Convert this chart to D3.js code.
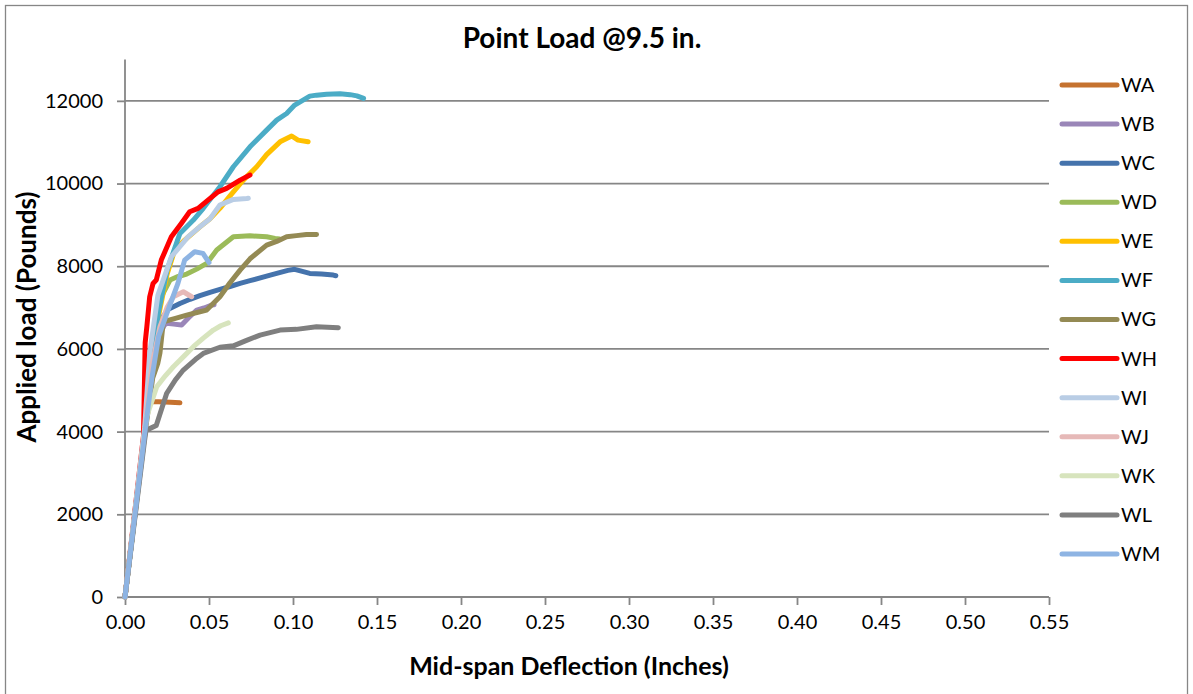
<!DOCTYPE html>
<html>
<head>
<meta charset="utf-8">
<script src="https://cdn.jsdelivr.net/npm/d3@7"></script>
<style>
  html, body { margin: 0; padding: 0; background: #fff; }
  svg { display: block; font-family: Lato, "Open Sans", sans-serif; }
</style>
</head>
<body>
<svg id="chart" width="1193" height="694"></svg>
<script>
// ---- data ----
const seriesNames = ["WA","WB","WC","WD","WE","WF","WG","WH","WI","WJ","WK","WL","WM"];
const seriesColors = ["#C5722F","#9A86B8","#4573AC","#9BBB59","#FFC000","#4BACC6","#948A54","#FF0000","#B9CDE5","#E6B9B8","#D7E4BD","#7F7F7F","#8EB4E3"];

const waX = [0, 0.0117, 0.0139, 0.020, 0.027, 0.0327];
const waY = [0, 4000, 4722, 4725, 4712, 4698];

const wbX = [0, 0.0117, 0.016, 0.020, 0.0235, 0.0248, 0.0290, 0.0337, 0.0380, 0.0427, 0.047, 0.0516, 0.053];
const wbY = [0, 4000, 5400, 6300, 6580, 6618, 6600, 6577, 6760, 6940, 6990, 7060, 7070];

const wcX = [0, 0.0117, 0.016, 0.019, 0.0226, 0.0258, 0.0327, 0.0387, 0.0446, 0.0506, 0.0565, 0.0625, 0.0685, 0.0744, 0.0843, 0.0903, 0.097, 0.101, 0.105, 0.110, 0.117, 0.124, 0.1255];
const wcY = [0, 4000, 5400, 6300, 6780, 6960, 7100, 7200, 7290, 7370, 7440, 7510, 7585, 7650, 7760, 7827, 7900, 7925, 7880, 7827, 7810, 7786, 7770];

const wdX = [0, 0.0117, 0.015, 0.018, 0.0216, 0.0268, 0.0308, 0.0367, 0.0427, 0.0486, 0.0546, 0.0645, 0.0744, 0.0843, 0.0893, 0.092];
const wdY = [0, 4000, 5300, 6500, 7262, 7665, 7740, 7810, 7930, 8068, 8391, 8712, 8737, 8712, 8673, 8660];

const weX = [0, 0.0117, 0.016, 0.020, 0.025, 0.0296, 0.0355, 0.0446, 0.0506, 0.0565, 0.0625, 0.0704, 0.0784, 0.0843, 0.0923, 0.0992, 0.103, 0.109];
const weY = [0, 4000, 5600, 6800, 7800, 8390, 8632, 8954, 9150, 9400, 9700, 10083, 10406, 10700, 11009, 11150, 11050, 11009];

const wfX = [0, 0.0117, 0.016, 0.020, 0.025, 0.0327, 0.0407, 0.0466, 0.0565, 0.0645, 0.0744, 0.0843, 0.0903, 0.0962, 0.101, 0.106, 0.110, 0.114, 0.120, 0.128, 0.134, 0.138, 0.142];
const wfY = [0, 4000, 5600, 6900, 7900, 8794, 9116, 9400, 9922, 10406, 10889, 11292, 11534, 11695, 11897, 12017, 12114, 12138, 12160, 12170, 12150, 12120, 12058];

const wgX = [0, 0.0117, 0.0165, 0.0195, 0.0208, 0.0228, 0.030, 0.0367, 0.0446, 0.0486, 0.0565, 0.0625, 0.0685, 0.0744, 0.0843, 0.0903, 0.0962, 0.102, 0.108, 0.114];
const wgY = [0, 3900, 5300, 5650, 5900, 6657, 6740, 6819, 6900, 6940, 7262, 7600, 7907, 8180, 8511, 8600, 8712, 8740, 8765, 8770];

const whX = [0, 0.0110, 0.0120, 0.0130, 0.0147, 0.0167, 0.0186, 0.0216, 0.0276, 0.0335, 0.0385, 0.0435, 0.0494, 0.0554, 0.0605, 0.0685, 0.0744];
const whY = [0, 3900, 6150, 6536, 7262, 7585, 7665, 8149, 8712, 9035, 9317, 9398, 9600, 9800, 9882, 10083, 10204];

const wiX = [0, 0.0117, 0.0147, 0.0196, 0.0276, 0.0375, 0.0446, 0.0506, 0.0565, 0.0645, 0.0724, 0.0734];
const wiY = [0, 4100, 5900, 7300, 8229, 8712, 8954, 9150, 9480, 9616, 9640, 9645];

const wjX = [0, 0.0117, 0.016, 0.0208, 0.0250, 0.0288, 0.0347, 0.0397];
const wjY = [0, 4000, 5600, 6536, 7000, 7262, 7383, 7262];

const wkX = [0, 0.0117, 0.0129, 0.0189, 0.0240, 0.0288, 0.0350, 0.0407, 0.0466, 0.0526, 0.0570, 0.0615];
const wkY = [0, 4000, 4360, 5085, 5350, 5569, 5820, 6053, 6260, 6456, 6560, 6630];

const wlX = [0, 0.0117, 0.0125, 0.0186, 0.0248, 0.030, 0.0347, 0.042, 0.0466, 0.0565, 0.0645, 0.072, 0.0804, 0.0923, 0.102, 0.114, 0.127];
const wlY = [0, 3800, 4030, 4150, 4925, 5250, 5489, 5750, 5892, 6040, 6075, 6200, 6335, 6456, 6473, 6536, 6512];

const wmX = [0, 0.0117, 0.016, 0.020, 0.0256, 0.0315, 0.0355, 0.0415, 0.0464, 0.050];
const wmY = [0, 3950, 5300, 6300, 6940, 7585, 8149, 8350, 8310, 8090];

const xTicks = [0, 0.05, 0.10, 0.15, 0.20, 0.25, 0.30, 0.35, 0.40, 0.45, 0.50, 0.55];
const yTicks = [0, 2000, 4000, 6000, 8000, 10000, 12000];

const chartTitle = "Point Load @9.5 in.";
const xTitle = "Mid-span Deflection (Inches)";
const yTitle = "Applied load (Pounds)";

const allX = [waX, wbX, wcX, wdX, weX, wfX, wgX, whX, wiX, wjX, wkX, wlX, wmX];
const allY = [waY, wbY, wcY, wdY, weY, wfY, wgY, whY, wiY, wjY, wkY, wlY, wmY];
const series = seriesNames.map((name, i) => ({
  name, color: seriesColors[i],
  points: allX[i].map((x, j) => [x, allY[i][j]])
}));

// ---- drawing ----
const svg = d3.select("#chart");
const gridColor = "#868686";

svg.append("rect")
  .attr("x", 5.5).attr("y", 5.5).attr("width", 1182).attr("height", 720)
  .attr("fill", "#fff").attr("stroke", gridColor).attr("stroke-width", 1.3);

const x = d3.scaleLinear().domain([0, 0.55]).range([125, 1049]);
const y = d3.scaleLinear().domain([0, 13000]).range([597, 59.5]);

// gridlines
svg.append("g").selectAll("line").data(yTicks.filter(d => d > 0)).join("line")
  .attr("x1", x(0)).attr("x2", x(0.55))
  .attr("y1", d => y(d)).attr("y2", d => y(d))
  .attr("stroke", gridColor).attr("stroke-width", 1.8);

// y axis
const yAxis = svg.append("g").attr("transform", `translate(${x(0)},0)`)
  .call(d3.axisLeft(y).tickValues(yTicks).tickFormat(d3.format("d")).tickSize(8).tickPadding(14));
yAxis.select(".domain").attr("stroke", gridColor).attr("stroke-width", 1.8)
  .attr("d", `M0,${y(13000)}V${y(0)}`);
yAxis.selectAll(".tick line").attr("stroke", gridColor).attr("stroke-width", 1.8);
yAxis.selectAll(".tick text").attr("font-size", 20).attr("fill", "#000")
  .attr("font-family", "Lato, sans-serif");

// x axis
const xAxis = svg.append("g").attr("transform", `translate(0,${y(0)})`)
  .call(d3.axisBottom(x).tickValues(xTicks).tickFormat(d3.format(".2f")).tickSize(8).tickPadding(10));
xAxis.select(".domain").attr("stroke", gridColor).attr("stroke-width", 1.8)
  .attr("d", `M${x(0)},0H${x(0.55)}`);
xAxis.selectAll(".tick line").attr("stroke", gridColor).attr("stroke-width", 1.8);
xAxis.selectAll(".tick text").attr("font-size", 20).attr("fill", "#000")
  .attr("font-family", "Lato, sans-serif");

// lines
const line = d3.line().x(d => x(d[0])).y(d => y(d[1])).curve(d3.curveLinear);
svg.append("g").selectAll("path").data(series).join("path")
  .attr("d", d => line(d.points))
  .attr("fill", "none").attr("stroke", d => d.color)
  .attr("stroke-width", 5).attr("stroke-linecap", "round").attr("stroke-linejoin", "round");

// titles
svg.append("text").attr("x", 582).attr("y", 48).attr("text-anchor", "middle")
  .attr("font-size", 28).attr("font-weight", "bold").text(chartTitle);
svg.append("text").attr("x", 569).attr("y", 675).attr("text-anchor", "middle")
  .attr("font-size", 25).attr("font-weight", "bold").text(xTitle);
svg.append("text").attr("transform", "translate(36,317) rotate(-90)").attr("text-anchor", "middle")
  .attr("font-size", 26).attr("font-weight", "bold").text(yTitle);

// legend
const lg = svg.append("g").selectAll("g").data(series).join("g")
  .attr("transform", (d, i) => `translate(0,${85 + i * 39.08})`);
lg.append("line").attr("x1", 1062).attr("x2", 1117).attr("y1", 0).attr("y2", 0)
  .attr("stroke", d => d.color).attr("stroke-width", 5).attr("stroke-linecap", "round");
lg.append("text").attr("x", 1121).attr("y", 0).attr("dy", "0.35em")
  .attr("font-size", 20).text(d => d.name);
</script>
</body>
</html>
